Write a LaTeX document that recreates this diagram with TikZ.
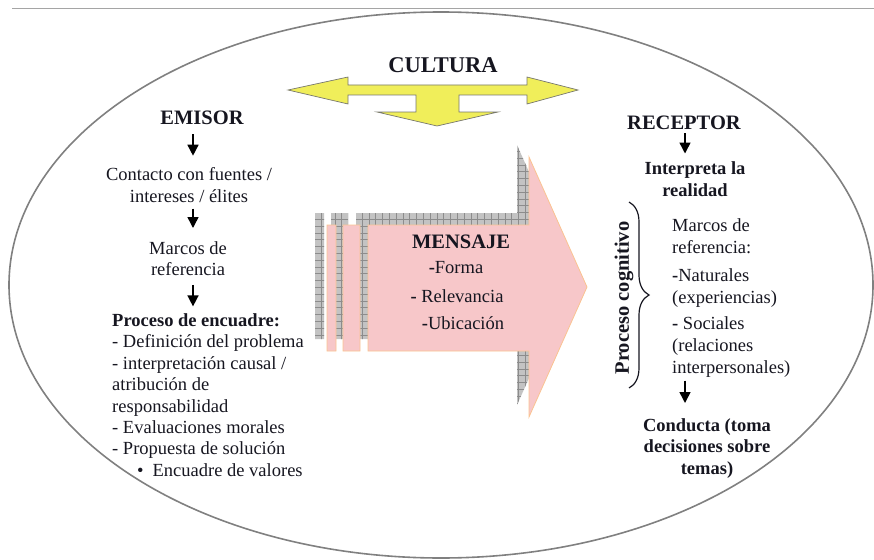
\documentclass[tikz,border=0pt]{standalone}
\usepackage{fontspec}
\setmainfont{Liberation Serif}
\usetikzlibrary{decorations.pathreplacing,arrows.meta}
\definecolor{ellgray}{RGB}{128,128,128}
\definecolor{linegray}{RGB}{165,165,165}
\definecolor{yelf}{RGB}{240,238,90}
\definecolor{yelb}{RGB}{120,120,110}
\definecolor{pinkf}{RGB}{247,199,201}
\definecolor{pinkb}{RGB}{250,195,145}
\definecolor{shadowf}{RGB}{195,195,195}
\definecolor{shadowl}{RGB}{140,140,140}
\definecolor{txtc}{RGB}{22,22,32}
\newcommand{\thickdash}{\textbf{-}}
\begin{document}
\begin{tikzpicture}[x=1pt,y=-1pt,
  plain/.style={inner sep=0pt, text=txtc, font=\fontsize{18.5}{21.4}\selectfont},
  boldtxt/.style={inner sep=0pt, text=txtc, font=\fontsize{18.5}{21.5}\selectfont\bfseries},
  heading/.style={inner sep=0pt, text=txtc, font=\fontsize{20.5}{24}\selectfont\bfseries},
  arr/.style={-{Triangle[length=11pt,width=11pt]}, line width=1.5pt, draw=black},
]
\useasboundingbox (0,0) rectangle (874,559);
% top rule and ellipse
\draw[linegray, line width=1pt] (12,9) -- (874,9);
\draw[ellgray, line width=1.6pt] (441,285) ellipse [x radius=432pt, y radius=273pt];

% yellow triple arrow
\filldraw[fill=yelf, draw=yelb, line width=0.7pt]
  (288,90) -- (348,77) -- (348,85) -- (527,85) -- (527,77) -- (578,90) -- (527,104)
  -- (527,95) -- (459,95) -- (459,112) -- (498,112) -- (437,126) -- (377,112)
  -- (416,112) -- (416,95) -- (348,95) -- (348,104) -- cycle;
\node[inner sep=0pt, text=txtc, font=\fontsize{22.5}{26}\selectfont\bfseries] (cultura) at (443,65) {CULTURA};

% shadow of the message arrow
\begin{scope}[shift={(-12,-12)}]
  \clip (327,225) rectangle (336,351) (343,225) rectangle (360,351)
    (368,225) -- (529,225) -- (529,157) -- (587,287) -- (529,417) -- (529,351) -- (368,351) -- cycle;
  \fill[shadowf] (300,130) rectangle (600,430);
  \draw[shadowl, line width=0.5pt, step=6.8pt] (300,130) grid (600,430);
\end{scope}
% message arrow
\filldraw[fill=pinkf, draw=pinkb, line width=0.8pt]
  (327,225) rectangle (336,351) (343,225) rectangle (360,351)
  (368,225) -- (529,225) -- (529,157) -- (587,287) -- (529,417) -- (529,351) -- (368,351) -- cycle;
\node[heading] (mensaje) at (461,242) {MENSAJE};
\node[plain] (forma) at (456,268) {\thickdash Forma};
\node[plain] (relevancia) at (457,296) {\thickdash{} Relevancia};
\node[plain] (ubicacion) at (463,323) {\thickdash Ubicación};

% emisor side
\node[heading] (emisor) at (202,118) {EMISOR};
\node[plain, align=center, anchor=north] (contacto) at (189,167.7) {Contacto con fuentes /\\intereses / élites};
\node[plain, align=center, anchor=north] (marcos) at (188,241) {Marcos de\\referencia};
\node[plain, align=left, anchor=north west] (proceso) at (112,313.4)
  {\textbf{Proceso de encuadre:}\\- Definición del problema\\- interpretación causal /\\atribución de\\responsabilidad\\- Evaluaciones morales\\- Propuesta de solución\\\hspace*{25pt}\textbullet\hspace{9pt}Encuadre de valores};

\coordinate (lx) at (193,0);
\draw[arr, shorten <=9pt, shorten >=12pt] (lx |- emisor.south) -- (lx |- contacto.north);
\draw[arr, shorten <=6pt, shorten >=13pt] (lx |- contacto.south) -- (lx |- marcos.north);
\draw[arr, shorten <=9pt, shorten >=7pt] (lx |- marcos.south) -- (lx |- proceso.north);

% receptor side
\node[heading] (receptor) at (684,123) {RECEPTOR};
\node[boldtxt, align=center, anchor=north] (interpreta) at (695,161.5) {Interpreta la\\realidad};
\node[inner sep=0pt, text=txtc, font=\fontsize{18.5}{22}\selectfont, align=left, anchor=north west] (marcosR) at (672,218)
  {Marcos de\\referencia:\\[6pt]\thickdash Naturales\\(experiencias)\\[4pt]\thickdash{} Sociales\\(relaciones\\interpersonales)};
\node[boldtxt, align=center, anchor=north] (conducta) at (707,418) {Conducta (toma\\decisiones sobre\\temas)};
\draw[decorate, decoration={brace, amplitude=20pt}, line width=1.2pt, draw=txtc] (629,202) -- (629,388);
\node[heading, rotate=90] (cognitivo) at (624,298) {Proceso cognitivo};

\coordinate (rx) at (685,0);
\draw[arr, shorten <=3pt, shorten >=8pt] (rx |- receptor.south) -- (rx |- interpreta.north);
\draw[arr, shorten <=3.5pt, shorten >=15pt] (rx |- marcosR.south) -- (rx |- conducta.north);
\end{tikzpicture}
\end{document}
